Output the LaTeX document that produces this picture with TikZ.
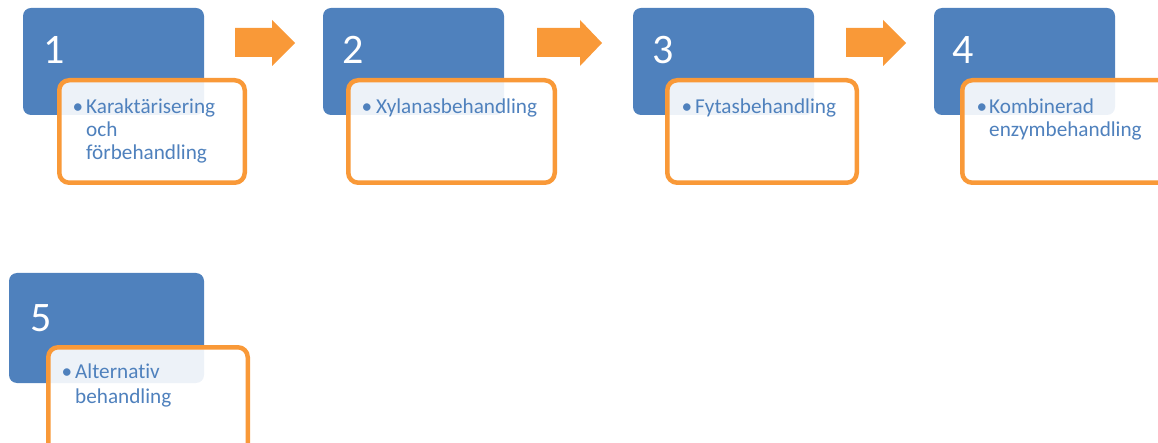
\documentclass[tikz,border=0pt]{standalone}
\usepackage{fontspec}
\setmainfont{Carlito}[Ligatures=NoCommon]
\definecolor{stepblue}{RGB}{79,129,189}
\definecolor{steporange}{RGB}{249,153,56}
\begin{document}
\begin{tikzpicture}[x=1pt,y=-1pt,
  bluebox/.style={fill=stepblue, draw=none, rounded corners=8pt, anchor=north west, inner sep=0pt, outer sep=0pt},
  orangebox/.style={draw=steporange, line width=4.5pt, fill=white, fill opacity=0.9, draw opacity=1, rounded corners=10pt, anchor=north west, inner sep=0pt},
  numtext/.style={text=white, font=\fontsize{42}{44}\selectfont, anchor=base west, inner sep=0pt},
  bultext/.style={text=stepblue, font=\fontsize{21.2}{23}\selectfont, align=left, anchor=base west, inner sep=0pt},
  bulletdot/.style={text=stepblue, font=\fontsize{21.2}{23}\selectfont, anchor=base, inner sep=0pt},
  flowarrow/.style={fill=steporange, draw=none}]
\useasboundingbox (0,0) rectangle (1158,443);
\clip (0,0) rectangle (1158,443);
% blue boxes
\node[bluebox, minimum width=181pt, minimum height=107pt] (b1) at (23,8) {};
\node[bluebox, minimum width=181pt, minimum height=107pt] (b2) at (323,8) {};
\node[bluebox, minimum width=181pt, minimum height=107pt] (b3) at (633,8) {};
\node[bluebox, minimum width=181pt, minimum height=107pt] (b4) at (934,8) {};
\node[bluebox, minimum width=195pt, minimum height=110pt] (b5) at (9,273) {};
% numbers
\node[numtext] (n1) at (43,64) {1};
\node[numtext] (n2) at (342,64) {2};
\node[numtext] (n3) at (652,64) {3};
\node[numtext] (n4) at (952,64) {4};
\node[numtext] (n5) at (30,331) {5};
% orange boxes
\node[orangebox, minimum width=185.5pt, minimum height=102.5pt] (o1) at (57,78) {};
\node[orangebox, minimum width=206.5pt, minimum height=102.5pt] (o2) at (346,78) {};
\node[orangebox, minimum width=189.5pt, minimum height=102.5pt] (o3) at (665,78) {};
\node[orangebox, minimum width=230pt, minimum height=102.5pt] (o4) at (960,78) {};
\node[orangebox, minimum width=199.5pt, minimum height=115pt] (o5) at (46,345) {};
% arrows
\fill[flowarrow] (235,28) -- (272,28) -- (272,20) -- (295,43) -- (272,66) -- (272,57) -- (235,57) -- cycle;
\fill[flowarrow] (537,28) -- (580,28) -- (580,20) -- (602,43) -- (580,66) -- (580,57) -- (537,57) -- cycle;
\fill[flowarrow] (846,28) -- (883,28) -- (883,20) -- (906,43) -- (883,66) -- (883,57) -- (846,57) -- cycle;
% texts (anchored at the baseline of the last line)
\node[bulletdot] (d1) at (78,114) {•};
\node[bultext] (t1) at (86,160) {Karaktärisering\\och\\förbehandling};
\node[bulletdot] (d2) at (367,114) {•};
\node[bultext] (t2) at (376,114) {Xylanasbehandling};
\node[bulletdot] (d3) at (687,114) {•};
\node[bultext] (t3) at (695,114) {Fytasbehandling};
\node[bulletdot] (d4) at (982,114) {•};
\node[bultext] (t4) at (989,137) {Kombinerad\\enzymbehandling};
\node[bulletdot] (d5) at (67,378) {•};
\node[bultext, font=\fontsize{21.2}{25}\selectfont] (t5) at (75,403) {Alternativ\\behandling};
\end{tikzpicture}
\end{document}
